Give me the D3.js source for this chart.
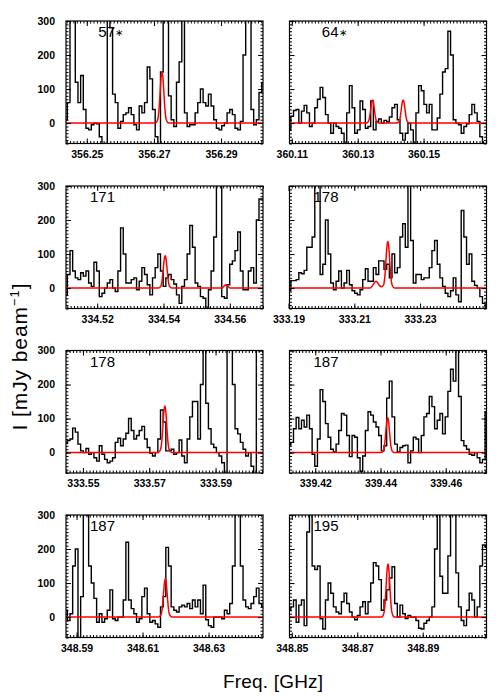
<!DOCTYPE html>
<html>
<head>
<meta charset="utf-8">
<script src="https://cdn.jsdelivr.net/npm/d3@7"></script>
<style>
  body { margin: 0; background: #fff; }
  svg { display: block; }
</style>
</head>
<body>
<script>
// panel labels (figure space keeps two-digit labels aligned like "%3d")
var panelLabels = ["\u200757\u2217", "\u200764\u2217", "171", "178", "178", "187", "187", "195"];

// frequency range of every panel [GHz]
var xDomains = [
  [356.2438, 356.3025], [360.1093, 360.1691],
  [334.5106, 334.5700], [333.1903, 333.2502],
  [333.5449, 333.6043], [339.4121, 339.4725],
  [348.5868, 348.6465], [348.8493, 348.9095]
];
var xTickVals = [
  [356.25, 356.27, 356.29], [360.11, 360.13, 360.15],
  [334.52, 334.54, 334.56], [333.19, 333.21, 333.23],
  [333.55, 333.57, 333.59], [339.42, 339.44, 339.46],
  [348.59, 348.61, 348.63], [348.85, 348.87, 348.89]
];
var yDomain = [-60, 300];
var yTickVals = [0, 100, 200, 300];

// observed spectra, mJy/beam, channels evenly spread over each panel range
var spec57 = [10,60,350,330,120,60,140,40,-15,-20,-5,0,-2,-40,-80,-60,380,280,85,60,-15,5,25,30,45,25,-5,-20,50,30,60,165,130,40,-40,-80,150,400,330,80,10,-10,120,180,330,30,-10,-5,-5,30,60,100,60,50,85,50,10,-15,-20,-8,0,30,40,25,-15,-20,5,200,400,350,40,-5,10,90,118];
var spec64 = [-20,20,37,40,0,35,52,30,-10,0,45,70,105,75,25,0,-30,0,-10,-15,-30,-60,30,110,45,-30,-20,65,40,-15,-10,65,-20,5,12,0,8,3,18,45,55,10,-30,-50,-30,0,-20,-60,30,110,95,55,30,55,-20,-20,15,85,150,160,270,200,10,0,-5,-30,-10,-2,25,55,30,5,-40,-60,-60];
var spec171 = [-20,40,110,50,30,25,45,35,50,15,5,76,50,-25,-15,0,15,25,0,-10,50,177,100,15,15,25,30,-5,20,60,40,10,-20,30,60,100,50,5,30,40,25,12,-20,-45,5,25,100,184,120,15,5,-25,-30,-60,-5,50,150,350,350,-25,-30,10,70,80,110,165,50,-5,-5,50,60,15,200,262,262];
var spec178a = [-7,22,22,25,45,42,52,120,120,150,330,330,40,70,200,100,15,-5,20,50,0,15,52,10,-8,-15,-20,-5,25,57,20,20,60,40,80,80,55,70,30,100,45,60,150,189,120,340,140,15,40,40,25,30,30,60,110,140,70,30,5,-15,-25,-8,30,-20,-40,228,150,70,100,20,8,0,-25,-45,-60];
var spec178b = [27,35,40,72,60,25,5,0,12,-5,0,-15,-25,20,-5,-20,-30,-25,-15,30,42,20,40,57,100,65,40,50,65,77,40,15,-2,-10,0,40,125,90,5,5,10,-5,0,37,-10,-30,40,105,150,150,40,200,350,145,70,25,15,0,-10,-30,-80,350,350,200,70,55,30,10,-10,0,-40,-80,350,350,350];
var spec187a = [22,30,70,103,70,95,75,110,70,-5,-40,40,185,150,85,45,10,2,25,65,115,110,50,-12,50,45,-15,-55,-10,65,120,110,90,75,50,5,20,160,210,105,25,2,15,20,22,-30,5,45,40,0,50,105,115,165,135,70,95,115,55,105,180,245,210,350,165,35,20,10,-5,-8,0,-15,-30,-20,120];
var spec187b = [20,-10,10,150,200,-80,60,360,300,150,100,55,-15,10,-15,-5,20,80,-5,-10,0,0,50,220,50,25,10,-15,-5,60,85,10,-15,-10,-20,-30,30,60,205,150,30,20,15,30,35,30,40,25,50,30,50,10,94,-8,-25,-30,0,0,0,-5,20,10,40,150,350,350,150,50,30,25,40,60,85,40,30];
var spec195 = [20,30,50,-15,35,50,-25,250,350,150,140,150,-5,-35,50,100,70,30,15,10,45,70,40,15,0,-8,5,30,45,10,45,100,160,150,110,20,50,80,115,148,40,0,35,10,-4,5,0,0,-10,-33,-35,-18,-10,0,30,200,350,120,70,70,180,350,350,130,30,-10,-25,20,70,50,0,30,150,212,205];

// model (red) curves: frequency / intensity pairs
var model57F = [356.2438,356.2704,356.2711,356.2715,356.27175,356.272,356.2722,356.2724,356.2726,356.2728,356.27305,356.2733,356.2737,356.2744,356.3025];
var model57V = [0,0,9,39,75,117,141,150,141,117,75,39,9,0,0];
var model64F = [360.1093,360.1325,360.1332,360.1336,360.13385,360.1341,360.1343,360.1345,360.1347,360.1349,360.13515,360.1354,360.1358,360.1365,
                360.1418,360.1425,360.1429,360.14315,360.1434,360.1436,360.1438,360.144,360.1442,360.14445,360.1447,360.1451,360.1458,360.1691];
var model64V = [0,0,4,17,34,53,64,68,64,53,34,17,4,0,0,4,17,34,53,64,68,64,53,34,17,4,0,0];
var model171F = [334.5106,334.5385,334.5392,334.5396,334.53985,334.5401,334.5403,334.5405,334.5407,334.5409,334.54115,334.5414,334.5418,334.5425,334.5575,334.5581,334.5585,334.5588,334.5591,334.5595,334.5601,334.5700];
var model171V = [0,0,6,25,48,75,90,96,90,75,48,25,6,0,0,4,8,10,8,4,0,0];
var model178aF = [333.1903,333.2148,333.2156,333.2162,333.2166,333.217,333.2176,333.2184,333.2189,333.2193,333.21955,333.2198,333.22,333.2202,333.2204,333.2206,333.22085,333.2211,333.2215,333.2222,333.2502];
var model178aV = [0,0,8,17,20,17,8,4,9,35,68,107,129,137,129,107,68,35,9,0,0];
var model178bF = [333.5449,333.5727,333.5734,333.5738,333.57405,333.5743,333.5745,333.5747,333.5749,333.5751,333.57535,333.5756,333.576,333.5767,333.6043];
var model178bV = [0,0,9,35,68,107,129,137,129,107,68,35,9,0,0];
var model187aF = [339.4121,339.4402,339.4409,339.4413,339.44155,339.4418,339.442,339.4422,339.4424,339.4426,339.44285,339.4431,339.4435,339.4442,339.4725];
var model187aV = [0,0,6,26,52,80,97,103,97,80,52,26,6,0,0];
var model187bF = [348.5868,348.6149,348.6156,348.616,348.61625,348.6165,348.6167,348.6169,348.6171,348.6173,348.61755,348.6178,348.6182,348.6189,348.6465];
var model187bV = [0,0,7,29,57,88,106,113,106,88,57,29,7,0,0];
var model195F = [348.8493,348.8774,348.8781,348.8785,348.87875,348.879,348.8792,348.8794,348.8796,348.8798,348.88005,348.8803,348.8807,348.8814,348.9095];
var model195V = [0,0,10,40,78,122,147,156,147,122,78,40,10,0,0];

var spectra = [spec57, spec64, spec171, spec178a, spec178b, spec187a, spec187b, spec195];
var modelsF = [model57F, model64F, model171F, model178aF, model178bF, model187aF, model187bF, model195F];
var modelsV = [model57V, model64V, model171V, model178aV, model178bV, model187aV, model187bV, model195V];

var width = 500, height = 700;
var colX = [66, 289.5],
    rowY = [21, 186, 350.5, 515],
    pw = 197,
    ph = 122.5;

var svg = d3.select("body").append("svg")
    .attr("width", width)
    .attr("height", height)
    .style("font-family", "'Liberation Sans', Arial, sans-serif");

var y = d3.scaleLinear().domain(yDomain).range([ph, 0]);

for (var p = 0; p < 8; p++) {
    drawPanel(p);
}

function drawPanel(p) {
    var col = p % 2, row = Math.floor(p / 2);
    var dom = xDomains[p];
    var x = d3.scaleLinear().domain(dom).range([0, pw]);

    var g = svg.append("g")
        .attr("transform", "translate(" + colX[col] + "," + rowY[row] + ")");

    g.append("clipPath").attr("id", "clip" + p)
        .append("rect").attr("width", pw).attr("height", ph);

    var vals = spectra[p];
    var chan = vals.map(function (v, i) {
        return [dom[0] + i * (dom[1] - dom[0]) / (vals.length - 1), v];
    });
    var model = modelsF[p].map(function (f, i) { return [f, modelsV[p][i]]; });

    var plot = g.append("g").attr("clip-path", "url(#clip" + p + ")");

    // histogram-style spectrum
    plot.append("path")
        .datum(chan)
        .attr("fill", "none")
        .attr("stroke", "#000")
        .attr("stroke-width", 1.4)
        .attr("d", d3.line()
            .x(function (d) { return x(d[0]); })
            .y(function (d) { return y(d[1]); })
            .curve(d3.curveStep));

    plot.append("path")
        .datum(model)
        .attr("fill", "none")
        .attr("stroke", "#ff0000")
        .attr("stroke-width", 1.5)
        .attr("d", d3.line()
            .x(function (d) { return x(d[0]); })
            .y(function (d) { return y(d[1]); })
            .curve(d3.curveMonotoneX));

    // minor ticks
    var xMinor = d3.range(Math.ceil(dom[0] * 1000), Math.floor(dom[1] * 1000) + 1)
        .map(function (k) { return k / 1000; });
    var yMinor = d3.range(-60, 301, 10);

    g.append("g").attr("transform", "translate(0," + ph + ")")
        .call(d3.axisBottom(x).tickValues(xMinor).tickSize(-2.5).tickFormat(""));
    g.append("g")
        .call(d3.axisTop(x).tickValues(xMinor).tickSize(-2.5).tickFormat(""));
    g.append("g")
        .call(d3.axisLeft(y).tickValues(yMinor).tickSize(-2.5).tickFormat(""));
    g.append("g").attr("transform", "translate(" + pw + ",0)")
        .call(d3.axisRight(y).tickValues(yMinor).tickSize(-2.5).tickFormat(""));

    // major ticks + labels
    g.append("g").attr("transform", "translate(0," + ph + ")")
        .call(d3.axisBottom(x).tickValues(xTickVals[p]).tickSize(-5).tickPadding(7)
            .tickFormat(d3.format(".2f")));
    g.append("g")
        .call(d3.axisTop(x).tickValues(xTickVals[p]).tickSize(-5).tickFormat(""));
    g.append("g")
        .call(d3.axisLeft(y).tickValues(yTickVals).tickSize(-5).tickPadding(11)
            .tickFormat(col === 0 ? d3.format("d") : ""));
    g.append("g").attr("transform", "translate(" + pw + ",0)")
        .call(d3.axisRight(y).tickValues(yTickVals).tickSize(-5).tickFormat(""));

    g.selectAll(".domain").remove();
    g.selectAll(".tick line").attr("stroke", "#000").attr("stroke-width", 1);
    g.selectAll(".tick text")
        .attr("font-family", "'Liberation Sans', Arial, sans-serif")
        .attr("font-size", 10.5)
        .attr("font-weight", "bold")
        .attr("fill", "#000");

    g.append("rect")
        .attr("width", pw)
        .attr("height", ph)
        .attr("fill", "none")
        .attr("stroke", "#000")
        .attr("stroke-width", 1.2);

    // label: number plus a small centred star where present
    var parts = panelLabels[p].split("\u2217");
    var lab = g.append("text")
        .attr("x", 24)
        .attr("y", 16)
        .attr("font-size", 15)
        .attr("fill", "#000");
    lab.append("tspan").text(parts[0]);
    if (parts.length > 1) {
        lab.append("tspan").attr("font-size", 10).attr("dy", -1).text("\u2217");
    }
}

// axis titles
var yTitle = svg.append("text")
    .attr("transform", "translate(27,357) rotate(-90)")
    .attr("text-anchor", "middle")
    .attr("font-size", 21)
    .attr("fill", "#000")
    .attr("textLength", 147)
    .attr("lengthAdjust", "spacing");
yTitle.append("tspan").text("I [mJy beam");
yTitle.append("tspan").attr("dy", -8).attr("font-size", 13).text("\u22121");
yTitle.append("tspan").attr("dy", 8).text("]");

svg.append("text")
    .attr("x", 273)
    .attr("y", 688)
    .attr("text-anchor", "middle")
    .attr("font-size", 19)
    .attr("fill", "#000")
    .attr("textLength", 100)
    .attr("lengthAdjust", "spacing")
    .text("Freq. [GHz]");
</script>
</body>
</html>
